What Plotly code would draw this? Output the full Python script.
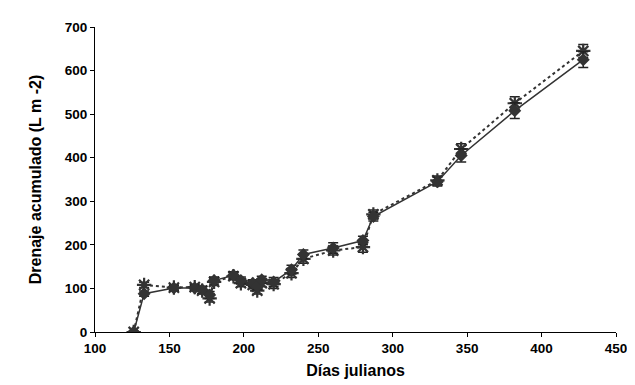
import plotly.graph_objects as go

days = [126, 133, 153, 167, 172, 177, 180, 193, 198, 206, 209, 212, 220, 232, 240, 260, 280, 287, 330, 346, 382, 428]
solid_vals = [0, 88, 101, 101, 97, 85, 118, 130, 118, 112, 105, 120, 115, 143, 178, 193, 210, 265, 345, 405, 508, 625]
solid_err = [2, 6, 6, 6, 8, 8, 8, 8, 8, 8, 8, 8, 10, 10, 10, 12, 10, 10, 10, 15, 18, 18]
dotted_vals = [0, 108, 102, 103, 95, 77, 115, 128, 112, 108, 95, 112, 110, 135, 168, 187, 195, 270, 348, 420, 525, 645]
dotted_err = [2, 6, 6, 6, 8, 8, 8, 8, 8, 8, 8, 8, 10, 10, 10, 10, 12, 10, 10, 12, 15, 15]

x_ticks = [100, 150, 200, 250, 300, 350, 400, 450]
y_ticks = [0, 100, 200, 300, 400, 500, 600, 700]

col = "#333333"
fig = go.Figure()
fig.add_trace(go.Scatter(
    x=days, y=dotted_vals, mode="lines+markers",
    line=dict(color=col, width=2, dash="dot"),
    marker=dict(symbol="asterisk-open", size=12, line=dict(color=col, width=2.2)),
    error_y=dict(type="data", array=dotted_err, color="#222222", thickness=1.5, width=5),
    showlegend=False))
fig.add_trace(go.Scatter(
    x=days, y=solid_vals, mode="lines+markers",
    line=dict(color=col, width=1.5),
    marker=dict(symbol="diamond", size=10, color=col),
    error_y=dict(type="data", array=solid_err, color="#222222", thickness=1.5, width=5),
    showlegend=False))

axis_font = dict(family="Liberation Sans, Arial, sans-serif", size=13.5, color="black")
fig.update_layout(
    width=635, height=385,
    margin=dict(l=87, r=27, t=17, b=61),
    paper_bgcolor="white", plot_bgcolor="white",
    font=axis_font,
    xaxis=dict(range=[100, 450], tickvals=x_ticks, ticktext=[f"<b>{v}</b>" for v in x_ticks],
               showgrid=False, zeroline=False, showline=True, linecolor="black", linewidth=1,
               ticks="outside", ticklen=4, tickcolor="black",
               title=dict(text="<b>Días julianos</b>", standoff=9)),
    yaxis=dict(range=[0, 700], tickvals=y_ticks, ticktext=[f"<b>{v}</b>" for v in y_ticks],
               showgrid=False, zeroline=False, showline=True, linecolor="black", linewidth=1,
               ticks="outside", ticklen=4, tickcolor="black",
               title=dict(text="<b>Drenaje acumulado (L m -2)</b>", standoff=19)),
)
fig.write_html("out.html")
